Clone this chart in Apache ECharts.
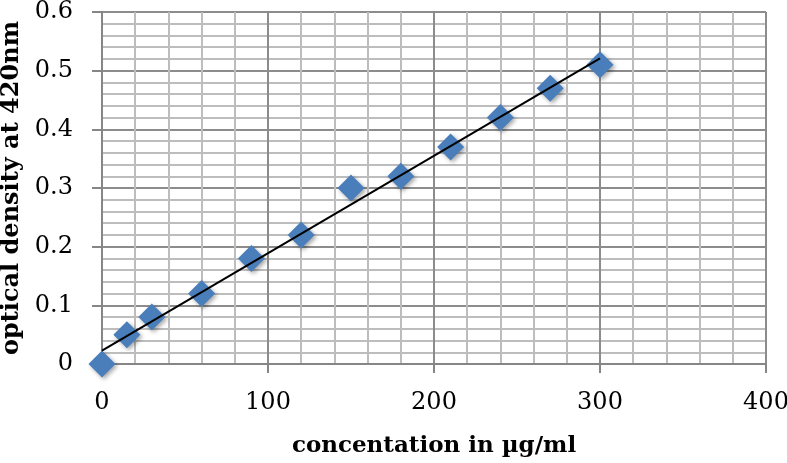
<!DOCTYPE html>
<html>
<head>
<meta charset="utf-8">
<script src="https://cdn.jsdelivr.net/npm/echarts@6/dist/echarts.min.js"></script>
<style>html,body{margin:0;padding:0;background:#fff}#c{width:787px;height:463px}</style>
</head>
<body>
<div id="c"></div>
<script>
const concentrations = [0, 15, 30, 60, 90, 120, 150, 180, 210, 240, 270, 300];
const opticalDensity = [0, 0.05, 0.08, 0.12, 0.18, 0.22, 0.30, 0.32, 0.37, 0.42, 0.47, 0.51];
const xTitle = 'concentation in µg/ml';
const yTitle = 'optical density at 420nm';

// linear trend line (least squares), like a spreadsheet trendline
const n = concentrations.length;
const mx = concentrations.reduce((a, b) => a + b, 0) / n;
const my = opticalDensity.reduce((a, b) => a + b, 0) / n;
let sxy = 0, sxx = 0;
for (let i = 0; i < n; i++) {
  sxy += (concentrations[i] - mx) * (opticalDensity[i] - my);
  sxx += (concentrations[i] - mx) ** 2;
}
const slope = sxy / sxx, intercept = my - slope * mx;
const xFirst = concentrations[0], xLast = concentrations[n - 1];
const trend = [[xFirst, intercept + slope * xFirst], [xLast, intercept + slope * xLast]];

const font = 'DejaVu Serif';
const chart = echarts.init(document.getElementById('c'));
chart.setOption({
  animation: false,
  grid: { left: 102, right: 21, top: 12, bottom: 99, containLabel: false, outerBoundsMode: 'none' },
  xAxis: {
    type: 'value', min: 0, max: 400, interval: 100,
    name: xTitle, nameLocation: 'middle', nameGap: 71,
    nameTextStyle: { fontFamily: font, fontWeight: 'bold', fontSize: 23, color: '#000' },
    axisLine: { show: true, lineStyle: { color: '#868686', width: 2 } },
    axisTick: { show: true, length: 9, lineStyle: { color: '#868686', width: 2 } },
    axisLabel: { fontFamily: font, fontSize: 24, color: '#000', margin: 27 },
    splitLine: { show: true, lineStyle: { color: '#8c8c8c', width: 2 } },
    minorTick: { show: false, splitNumber: 5 },
    minorSplitLine: { show: true, lineStyle: { color: '#bdbdbd', width: 2 } }
  },
  yAxis: {
    type: 'value', min: 0, max: 0.6, interval: 0.1,
    name: yTitle, nameLocation: 'middle', nameGap: 74,
    nameTextStyle: { fontFamily: font, fontWeight: 'bold', fontSize: 24, color: '#000' },
    axisLine: { show: true, lineStyle: { color: '#868686', width: 2 } },
    axisTick: { show: true, length: 10, lineStyle: { color: '#868686', width: 2 } },
    axisLabel: { fontFamily: font, fontSize: 24, color: '#000', margin: 29 },
    splitLine: { show: true, lineStyle: { color: '#8c8c8c', width: 2 } },
    minorTick: { show: false, splitNumber: 5 },
    minorSplitLine: { show: true, lineStyle: { color: '#bdbdbd', width: 2 } }
  },
  series: [
    {
      type: 'scatter',
      data: concentrations.map((x, i) => [x, opticalDensity[i]]),
      symbol: 'diamond', symbolSize: 27,
      itemStyle: { color: '#4a7ebb', opacity: 1, shadowBlur: 4, shadowOffsetX: 2, shadowOffsetY: 2, shadowColor: 'rgba(0,0,0,0.35)' },
      z: 2
    },
    {
      type: 'line',
      data: trend, symbol: 'none',
      lineStyle: { color: '#000', width: 2 },
      z: 3
    }
  ]
});
</script>
</body>
</html>
